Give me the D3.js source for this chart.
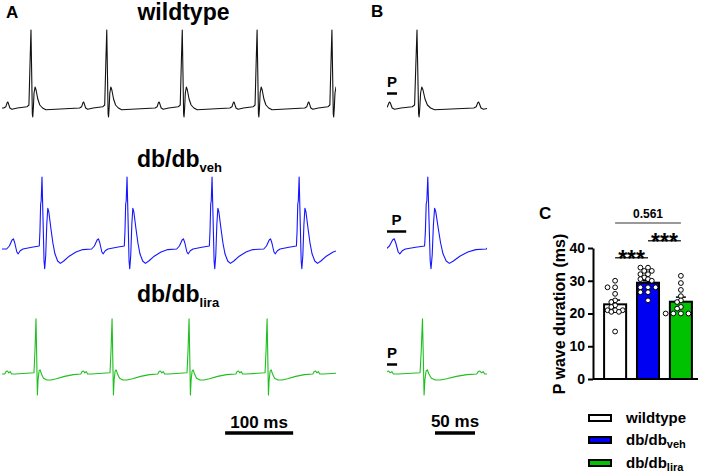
<!DOCTYPE html>
<html>
<head>
<meta charset="utf-8">
<script src="https://cdn.jsdelivr.net/npm/d3@7/dist/d3.min.js"></script>
<style>
body { margin: 0; background: #fff; }
text { font-family: "Liberation Sans", Arial, sans-serif; font-weight: bold; }
</style>
</head>
<body>
<div id="fig"></div>
<script>
// ---- ECG beat shapes, [ms relative to R peak, mV] ----
var wtBeat = [[-120, -0.02], [-40, 0.0], [-37, 0.02], [-35, 0.09], [-34, 0.1], [-33, 0.07], [-31, 0.0],
  [-28, -0.02], [-20, 0.0], [-6, 0.02], [-3, 0.05], [-1.5, 0.7], [0, 1.3], [1, 0.6], [2, -0.1],
  [2.6, -0.15], [3.5, 0.0], [4.5, 0.25], [6, 0.35], [7.5, 0.3], [10, 0.15], [13, 0.05], [17, 0.0],
  [22, -0.03], [120, -0.02]];
var vehBeat = [[-120, 0.0], [-52, 0.0], [-48, 0.05], [-44, 0.15], [-42, 0.17], [-40, 0.1], [-37, -0.05],
  [-35, -0.08], [-32, -0.03], [-28, 0.0], [-15, 0.03], [-4, 0.05], [-3, 0.3], [-2, 0.75], [-1.2, 0.8],
  [0, 1.2], [1.5, 0.5], [3, -0.2], [4, -0.33], [5.5, -0.1], [7, 0.4], [8.5, 0.68], [10, 0.62],
  [13, 0.35], [16, 0.1], [19, -0.08], [23, -0.2], [27, -0.24], [32, -0.2], [40, -0.12], [50, -0.05],
  [60, -0.01], [120, 0.0]];
var liraBeat = [[-120, 0.0], [-46, 0.0], [-44, 0.04], [-42, 0.05], [-40, 0.02], [-38, 0.04], [-36, 0.0],
  [-30, 0.0], [-3, 0.02], [-1.5, 0.4], [0, 0.92], [1, 0.3], [2, -0.35], [3, -0.1], [4.5, 0.05],
  [6, 0.07], [8, 0.0], [11, -0.07], [16, -0.1], [22, -0.1], [30, -0.08], [42, -0.04], [55, -0.01],
  [120, 0.0]];

// R peak times (ms) in the 490 ms strips
var wtR = [42.6, 154, 265, 375, 485];
var vehR = [58.8, 183.8, 308.8, 436.8];
var liraR = [50, 161.8, 275, 389.7, 503];

// zoomed single beat (panel B): [beat index, ms before R, ms after R]
var zoomBeat = [[1, 37.5, 87.5], [1, 51, 74], [1, 44, 80]];
// P wave marker length (ms)
var pMarkMs = [12.5, 24, 12.5];

// ---- panel C: P wave duration (ms) ----
var groups = ["wildtype", "db/db_veh", "db/db_lira"];
var means = [22.8, 29.4, 23.6];
var sems = [1.3, 0.6, 1.4];
var wtDots = [30, 28, 28, 26, 24, 23.5, 22.5, 22, 21, 21, 20.5, 20.5, 21, 14.5];
var vehDots = [34, 34, 33, 33, 32, 32, 31, 30.5, 30.5, 30, 28, 28, 28, 26.5, 26.5, 24];
var liraDots = [31.5, 29.3, 27.2, 25.3, 24, 23.5, 22, 21.5, 20, 20, 20, 20];
var yTicks = [0, 10, 20, 30, 40];
// comparisons: [from group, to group, label, level]
var comparisons = [[0, 1, "***", 37], [1, 2, "***", 42.2], [0, 2, "0.561", 47.6]];

var traceColors = ["#111", "#1515ff", "#1fbf1f"];
var barColors = ["#fff", "#0000f2", "#00c200"];

var svg = d3.select("#fig").append("svg")
    .attr("width", 705)
    .attr("height", 475);

var rows = [
  { beat: wtBeat, r: wtR, base: 108 },
  { beat: vehBeat, r: vehR, base: 249 },
  { beat: liraBeat, r: liraR, base: 374 }
];

function buildTrace(beat, rTimes) {
  var pts = [];
  rTimes.forEach(function(r, i) {
    var lo = i === 0 ? -Infinity : (rTimes[i - 1] - r) / 2,
        hi = i === rTimes.length - 1 ? Infinity : (rTimes[i + 1] - r) / 2;
    beat.forEach(function(p) {
      if (p[0] >= lo && p[0] < hi) pts.push([r + p[0], p[1]]);
    });
  });
  return pts;
}

var xA = d3.scaleLinear().domain([0, 491]).range([2, 336]);

var defs = svg.append("defs");
defs.append("clipPath").attr("id", "clipA")
  .append("rect").attr("x", 2).attr("y", 0).attr("width", 334).attr("height", 475);
defs.append("clipPath").attr("id", "clipB")
  .append("rect").attr("x", 387).attr("y", 0).attr("width", 100).attr("height", 475);

rows.forEach(function(row, i) {
  var y = d3.scaleLinear().domain([0, 1]).range([row.base, row.base - 60]);
  var pts = buildTrace(row.beat, row.r);

  // panel A strip
  var lineA = d3.line().x(function(d) { return xA(d[0]); }).y(function(d) { return y(d[1]); });
  svg.append("path")
      .datum(pts)
      .attr("clip-path", "url(#clipA)")
      .attr("fill", "none")
      .attr("stroke", traceColors[i])
      .attr("stroke-width", 1.1)
      .attr("stroke-linejoin", "round")
      .attr("d", lineA);

  // panel B single beat
  var zb = zoomBeat[i];
  var r0 = row.r[zb[0]];
  var xB = d3.scaleLinear().domain([r0 - zb[1], r0 + zb[2]]).range([387, 487]);
  var lineB = d3.line().x(function(d) { return xB(d[0]); }).y(function(d) { return y(d[1]); });
  svg.append("path")
      .datum(pts)
      .attr("clip-path", "url(#clipB)")
      .attr("fill", "none")
      .attr("stroke", traceColors[i])
      .attr("stroke-width", 1.1)
      .attr("stroke-linejoin", "round")
      .attr("d", lineB);

  // P marker
  var x0 = xB.domain()[0];
  var pTop = [87, 225, 358][i];
  svg.append("text")
      .attr("x", (xB(x0) + xB(x0 + pMarkMs[i])) / 2)
      .attr("y", pTop)
      .attr("text-anchor", "middle")
      .style("font-size", "15px")
      .text("P");
  svg.append("line")
      .attr("x1", xB(x0)).attr("x2", xB(x0 + pMarkMs[i]))
      .attr("y1", pTop + 6.5).attr("y2", pTop + 6.5)
      .attr("stroke", "#000").attr("stroke-width", 2.5);
});

// titles
svg.append("text").attr("x", 6).attr("y", 18).style("font-size", "17px").text("A");
svg.append("text").attr("x", 371).attr("y", 17).style("font-size", "17px").text("B");
svg.append("text").attr("x", 183.5).attr("y", 20).attr("text-anchor", "middle")
    .style("font-size", "23px").text("wildtype");
var t1 = svg.append("text").attr("x", 137).attr("y", 167).style("font-size", "23px");
t1.append("tspan").text("db/db");
t1.append("tspan").attr("dy", 5).style("font-size", "13px").text("veh");
var t2 = svg.append("text").attr("x", 137).attr("y", 302).style("font-size", "23px");
t2.append("tspan").text("db/db");
t2.append("tspan").attr("dy", 5).style("font-size", "13px").text("lira");

// scale bars
svg.append("line").attr("x1", xA(328)).attr("x2", xA(428)).attr("y1", 433).attr("y2", 433)
    .attr("stroke", "#000").attr("stroke-width", 3.5);
svg.append("text").attr("x", (xA(328) + xA(428)) / 2).attr("y", 428).attr("text-anchor", "middle")
    .style("font-size", "17px").text("100 ms");
var xBar = d3.scaleLinear().domain([0, 125]).range([387, 487]);
svg.append("line").attr("x1", xBar(60)).attr("x2", xBar(110)).attr("y1", 433).attr("y2", 433)
    .attr("stroke", "#000").attr("stroke-width", 3.5);
svg.append("text").attr("x", xBar(85)).attr("y", 427).attr("text-anchor", "middle")
    .style("font-size", "17px").text("50 ms");

// ---- panel C ----
var yC = d3.scaleLinear().domain([0, 40]).range([379, 248]);
var xC = d3.scaleBand().domain(groups).range([598.5, 697.5]).paddingInner(0.33).paddingOuter(0.17);

svg.append("text").attr("x", 539).attr("y", 219).style("font-size", "17px").text("C");

var yAxis = svg.append("g")
    .attr("transform", "translate(593,0)")
    .call(d3.axisLeft(yC).tickValues(yTicks).tickSize(5).tickSizeOuter(0).tickPadding(3));
yAxis.select(".domain").attr("stroke-width", 2);
yAxis.selectAll(".tick line").attr("stroke-width", 2);
yAxis.selectAll(".tick text").style("font-size", "14px").style("font-weight", "bold")
    .style("font-family", "'Liberation Sans', Arial, sans-serif").attr("fill", "#000");

svg.append("text")
    .attr("transform", "translate(565,314) rotate(-90)")
    .attr("text-anchor", "middle")
    .style("font-size", "16px")
    .text("P wave duration (ms)");

svg.selectAll(".bar").data(groups).enter().append("rect")
    .attr("class", "bar")
    .attr("x", function(d) { return xC(d); })
    .attr("width", xC.bandwidth())
    .attr("y", function(d, i) { return yC(means[i]); })
    .attr("height", function(d, i) { return yC(0) - yC(means[i]); })
    .attr("fill", function(d, i) { return barColors[i]; })
    .attr("stroke", "#000")
    .attr("stroke-width", 2);

svg.append("line").attr("x1", 593).attr("x2", 698).attr("y1", yC(0)).attr("y2", yC(0))
    .attr("stroke", "#000").attr("stroke-width", 2);

// error bars (mean + SEM)
groups.forEach(function(g, i) {
  var cx = xC(g) + xC.bandwidth() / 2;
  svg.append("line").attr("x1", cx).attr("x2", cx)
      .attr("y1", yC(means[i])).attr("y2", yC(means[i] + sems[i]))
      .attr("stroke", "#000").attr("stroke-width", 1.5);
  svg.append("line").attr("x1", cx - 5).attr("x2", cx + 5)
      .attr("y1", yC(means[i] + sems[i])).attr("y2", yC(means[i] + sems[i]))
      .attr("stroke", "#000").attr("stroke-width", 1.5);
});

// dots, simple swarm layout (overlap allowed a little, like Prism)
var r = 2.4, gap = 3.8;
[wtDots, vehDots, liraDots].forEach(function(vals, i) {
  var cx = xC(groups[i]) + xC.bandwidth() / 2;
  var placed = [];
  vals.slice().sort(d3.descending).forEach(function(v) {
    var cy = yC(v), k = 0, x;
    while (true) {
      var off = Math.ceil(k / 2) * gap * (k % 2 ? -1 : 1);
      x = cx + off;
      var hit = placed.some(function(p) {
        return Math.hypot(p[0] - x, p[1] - cy) < gap;
      });
      if (!hit) break;
      k++;
    }
    placed.push([x, cy]);
  });
  svg.selectAll(".dot" + i).data(placed).enter().append("circle")
      .attr("cx", function(d) { return d[0]; })
      .attr("cy", function(d) { return d[1]; })
      .attr("r", r)
      .attr("fill", "#fff")
      .attr("stroke", "#000")
      .attr("stroke-width", 1);
});

// comparison brackets
comparisons.forEach(function(c) {
  var xa = xC(groups[c[0]]) + xC.bandwidth() / 2,
      xb = xC(groups[c[1]]) + xC.bandwidth() / 2,
      yy = yC(c[3]);
  var isStar = c[2] === "***";
  svg.append("line").attr("x1", xa).attr("x2", xb).attr("y1", yy).attr("y2", yy)
      .attr("stroke", isStar ? "#333" : "#777").attr("stroke-width", 1.5);
  svg.append("text")
      .attr("x", (xa + xb) / 2)
      .attr("y", isStar ? yy + 9 : yy - 5)
      .attr("text-anchor", "middle")
      .style("font-size", isStar ? "23px" : "12px")
      .text(c[2]);
});

// legend
var legendY = [418, 440, 463];
groups.forEach(function(g, i) {
  svg.append("rect").attr("x", 589).attr("y", legendY[i] - 3).attr("width", 22).attr("height", 6)
      .attr("fill", barColors[i]).attr("stroke", "#000").attr("stroke-width", 2);
  var parts = g.split("_");
  var t = svg.append("text").attr("x", 626).attr("y", legendY[i] + 5).style("font-size", "15px");
  t.append("tspan").text(parts[0]);
  if (parts[1]) t.append("tspan").attr("dy", 3).style("font-size", "11px").text(parts[1]);
});
</script>
</body>
</html>
